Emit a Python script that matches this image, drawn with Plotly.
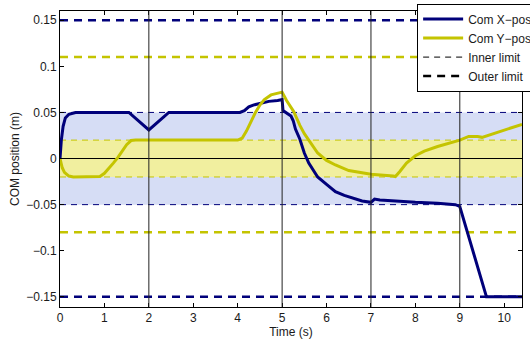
import plotly.graph_objects as go

# ---- data ----
t_x = [0, 0.03, 0.07, 0.12, 0.2, 0.35, 1.55, 2.0, 2.45, 4.05, 4.15, 4.25, 4.35, 4.5, 4.7, 4.9, 5.0, 5.02, 5.1, 5.2, 5.25,
       5.3, 5.4, 5.5, 5.6, 5.7, 5.8, 6.0, 6.2, 6.4, 6.6, 6.8, 7.0, 7.08, 7.2, 7.5, 8.0, 8.5, 8.9, 9.0, 9.6, 10.4]
com_x = [0, 0.02, 0.035, 0.044, 0.048, 0.050, 0.050, 0.031, 0.050, 0.050, 0.052, 0.056, 0.058, 0.060, 0.062, 0.063, 0.064,
         0.052, 0.049, 0.046, 0.041, 0.032, 0.021, 0.006, -0.005, -0.012, -0.020, -0.028, -0.036, -0.040, -0.043, -0.046,
         -0.0475, -0.044, -0.045, -0.046, -0.0475, -0.0485, -0.050, -0.052, -0.150, -0.150]

t_y = [0, 0.05, 0.1, 0.2, 0.3, 0.8, 0.9, 1.0, 1.1, 1.2, 1.3, 1.4, 1.5, 1.6, 1.7, 4.0, 4.1, 4.2, 4.3, 4.4, 4.5, 4.6,
       4.75, 4.9, 5.0, 5.1, 5.2, 5.26, 5.4, 5.5, 5.6, 5.8, 6.0, 6.2, 6.5, 7.0, 7.5, 7.55, 7.65, 7.8, 8.0, 8.2, 8.5,
       8.8, 9.0, 9.2, 9.4, 9.5, 9.7, 10.0, 10.2, 10.4]
com_y = [0, -0.010, -0.015, -0.019, -0.020, -0.020, -0.0195, -0.016, -0.011, -0.005, 0.001, 0.008, 0.015, 0.0195, 0.020,
         0.020, 0.022, 0.030, 0.040, 0.050, 0.058, 0.064, 0.069, 0.071, 0.072, 0.063, 0.055, 0.051, 0.036, 0.027, 0.020,
         0.006, -0.002, -0.007, -0.013, -0.017, -0.019, -0.0195, -0.014, -0.005, 0.003, 0.008, 0.013, 0.017, 0.020,
         0.024, 0.024, 0.023, 0.026, 0.031, 0.034, 0.037]

x_inner = [-0.05, 0.05]
y_inner = [-0.02, 0.02]
x_outer = [-0.15, 0.15]
y_outer = [-0.08, 0.11]
events = [2, 5, 7, 9]
t_range = [0, 10.4]

x_ticks = list(range(0, 11))
y_ticks = [-0.15, -0.1, -0.05, 0, 0.05, 0.1, 0.15]
y_ticklabels = ["\u22120.15", "\u22120.1", "\u22120.05", "0", "0.05", "0.1", "0.15"]

NAVY = "#00007a"
OLIVE = "#c4c400"
BAND_BLUE = "#d6ddf5"
BAND_YEL = "#f1ef9f"

fig = go.Figure()

shapes = [
    dict(type="rect", xref="x", yref="y", x0=t_range[0], x1=t_range[1], y0=x_inner[0], y1=x_inner[1],
         fillcolor=BAND_BLUE, line_width=0, layer="below"),
    dict(type="rect", xref="x", yref="y", x0=t_range[0], x1=t_range[1], y0=y_inner[0], y1=y_inner[1],
         fillcolor=BAND_YEL, line_width=0, layer="below"),
]
for e in events:
    shapes.append(dict(type="line", xref="x", yref="paper", x0=e, x1=e, y0=0, y1=1,
                       line=dict(color="#222222", width=1), layer="above"))
fig.update_layout(shapes=shapes)

# inner limits (thin dashed)
for v in x_inner:
    fig.add_trace(go.Scatter(x=t_range, y=[v, v], mode="lines", showlegend=False, hoverinfo="skip",
                             line=dict(color=NAVY, width=1, dash="6px,5px")))
for v in y_inner:
    fig.add_trace(go.Scatter(x=t_range, y=[v, v], mode="lines", showlegend=False, hoverinfo="skip",
                             line=dict(color=OLIVE, width=1, dash="6px,5px")))
# outer limits (thick dashed)
for v in x_outer:
    fig.add_trace(go.Scatter(x=t_range, y=[v, v], mode="lines", showlegend=False, hoverinfo="skip",
                             line=dict(color=NAVY, width=2.5, dash="8px,6px")))
for v in y_outer:
    fig.add_trace(go.Scatter(x=t_range, y=[v, v], mode="lines", showlegend=False, hoverinfo="skip",
                             line=dict(color=OLIVE, width=2.5, dash="8px,6px")))

fig.add_trace(go.Scatter(x=t_x, y=com_x, mode="lines", name="Com X\u2212pos",
                         line=dict(color=NAVY, width=3)))
fig.add_trace(go.Scatter(x=t_y, y=com_y, mode="lines", name="Com Y\u2212pos",
                         line=dict(color=OLIVE, width=3)))
fig.add_trace(go.Scatter(x=[None], y=[None], mode="lines", name="Inner limit",
                         line=dict(color="black", width=1, dash="6px,5px")))
fig.add_trace(go.Scatter(x=[None], y=[None], mode="lines", name="Outer limit",
                         line=dict(color="black", width=2.5, dash="8px,6px")))

font = dict(family="Liberation Sans, Arial, sans-serif", size=12, color="#1a1a1a")

fig.update_layout(
    width=530, height=341,
    margin=dict(l=60, r=8, t=11, b=34, autoexpand=False),
    paper_bgcolor="white", plot_bgcolor="white",
    font=font,
    showlegend=True,
    legend=dict(x=0.773, y=1.025, xanchor="left", yanchor="top", bgcolor="white",
                bordercolor="black", borderwidth=1, font=dict(size=12, color="#1a1a1a"),
                tracegroupgap=0, itemwidth=40),
    xaxis=dict(range=t_range, tickvals=x_ticks, ticks="inside", ticklen=4, tickcolor="black",
               showline=True, linecolor="black", linewidth=1, mirror="ticks", showgrid=False, zeroline=False,
               title=dict(text="Time (s)", standoff=1, font=dict(size=12)), tickfont=dict(size=12)),
    yaxis=dict(range=[-0.161, 0.16], tickvals=y_ticks, ticktext=y_ticklabels, ticks="inside", ticklen=4,
               tickcolor="black", showline=True, linecolor="black", linewidth=1, mirror="ticks",
               showgrid=False, zeroline=True, zerolinecolor="black", zerolinewidth=1,
               title=dict(text="COM position (m)", standoff=4, font=dict(size=12)), tickfont=dict(size=12)),
)

fig.write_html("out.html", config={"displayModeBar": False},
               post_script="document.body.style.margin='0';document.body.style.overflow='hidden';")
